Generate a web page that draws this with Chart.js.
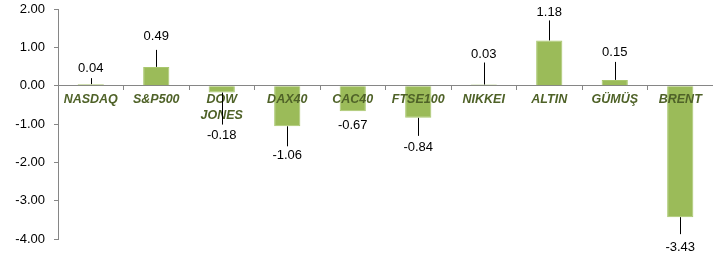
<!DOCTYPE html>
<html>
<head>
<meta charset="utf-8">
<script src="https://cdn.jsdelivr.net/npm/chart.js@4/dist/chart.umd.min.js"></script>
<style>
  html, body { margin: 0; padding: 0; background: #fff; }
  #wrap { width: 713px; height: 260px; }
</style>
</head>
<body>
<div id="wrap"><canvas id="myChart"></canvas></div>
<script>
const categories = ["NASDAQ", "S&P500", ["DOW", "JONES"], "DAX40", "CAC40", "FTSE100", "NIKKEI", "ALTIN", "GÜMÜŞ", "BRENT"];
const changes = [0.04, 0.49, -0.18, -1.06, -0.67, -0.84, 0.03, 1.18, 0.15, -3.43];
const yTicks = [2, 1, 0, -1, -2, -3, -4];

// callout placement (pixels from bar end) - style only
const labelGap = [16, 30, 43, 29, 14, 30, 30, 28, 27, 30];
const leaderLen = [6, 17, 32, 20, 0, 18, 22, 20, 18, 17];

const FONT = "'Liberation Sans', Arial, sans-serif";

const calloutPlugin = {
  id: "callouts",
  afterDatasetsDraw(chart) {
    const ctx = chart.ctx;
    const x = chart.scales.x;
    const y = chart.scales.y;
    const zero = y.getPixelForValue(0);
    ctx.save();

    // category names sitting on the zero line
    ctx.fillStyle = "#4F6228";
    ctx.font = "italic bold 12.5px " + FONT;
    ctx.textAlign = "center";
    ctx.textBaseline = "middle";
    categories.forEach((c, i) => {
      const cx = x.getPixelForValue(i);
      const lines = Array.isArray(c) ? c : [c];
      lines.forEach((t, k) => ctx.fillText(t, cx, zero + 14 + k * 16));
    });

    // value labels with leader lines
    const meta = chart.getDatasetMeta(0);
    ctx.font = "13px " + FONT;
    ctx.fillStyle = "#000";
    ctx.strokeStyle = "#000";
    ctx.lineWidth = 1;
    meta.data.forEach((bar, i) => {
      const v = changes[i];
      const dir = v >= 0 ? -1 : 1;
      const end = bar.y;
      const cx = Math.round(bar.x) + 0.5;
      if (leaderLen[i] > 0) {
        ctx.beginPath();
        ctx.moveTo(cx, end);
        ctx.lineTo(cx, end + dir * leaderLen[i]);
        ctx.stroke();
      }
      ctx.fillText(v.toFixed(2), bar.x, end + dir * labelGap[i]);
    });
    ctx.restore();
  }
};

new Chart(document.getElementById("myChart").getContext("2d"), {
  type: "bar",
  data: {
    labels: categories,
    datasets: [{
      data: changes,
      backgroundColor: "#9BBB59",
      borderColor: "#A9C76E",
      borderWidth: 1,
      categoryPercentage: 1,
      barPercentage: 0.4
    }]
  },
  options: {
    responsive: true,
    maintainAspectRatio: false,
    animation: false,
    layout: { padding: { top: 9, bottom: 21, left: 0, right: 0 } },
    plugins: { legend: { display: false }, tooltip: { enabled: false } },
    scales: {
      x: {
        position: { y: 0 },
        offset: true,
        grid: { display: true, drawOnChartArea: false, drawTicks: true, tickLength: 4, color: "#868686", offset: true },
        border: { display: true, color: "#868686" },
        ticks: { display: false }
      },
      y: {
        min: -4,
        max: 2,
        afterBuildTicks: (s) => { s.ticks = yTicks.map(v => ({ value: v })); },
        afterFit: (s) => { s.width = 58; s.paddingTop = 0; s.paddingBottom = 0; },
        grid: { display: true, drawOnChartArea: false, drawTicks: true, tickLength: 4, color: "#868686" },
        border: { display: true, color: "#868686" },
        ticks: {
          color: "#000",
          padding: 9,
          font: { family: FONT, size: 13 },
          callback: (v) => Number(v).toFixed(2)
        }
      }
    }
  },
  plugins: [calloutPlugin]
});
</script>
</body>
</html>
